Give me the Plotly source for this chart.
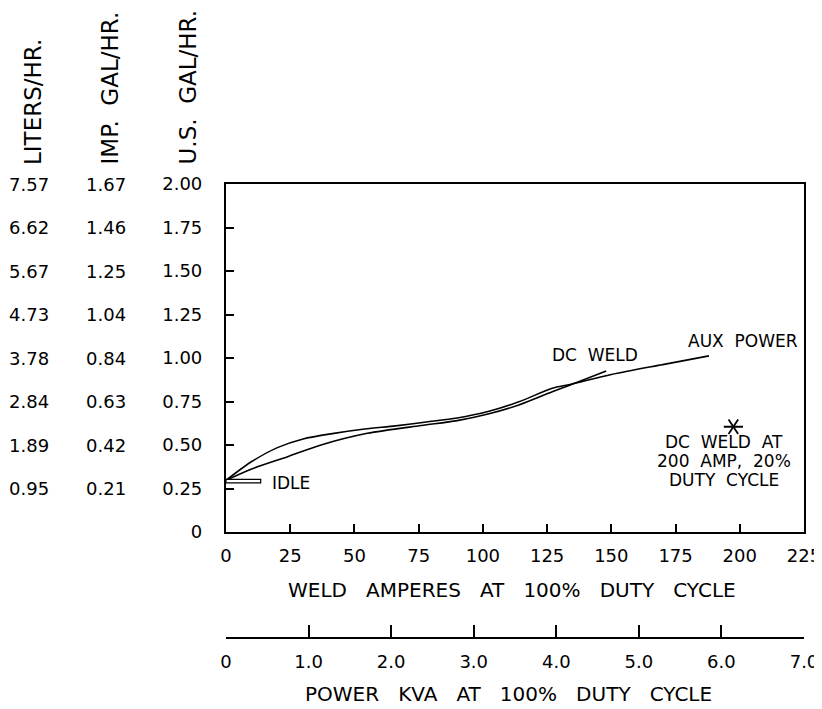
import plotly.graph_objects as go

# fuel consumption curves (x = weld amperes, y = U.S. gal/hr)
aux_x = [0, 10, 20, 30, 42, 54, 66, 78, 90, 102, 114, 127, 134, 150, 170, 188]
aux_y = [0.297, 0.405, 0.485, 0.535, 0.567, 0.592, 0.61, 0.632, 0.655, 0.692, 0.748, 0.826, 0.848, 0.905, 0.962, 1.012]
dc_x = [0, 10, 24, 37, 55, 76, 90, 102, 114, 127, 134, 148]
dc_y = [0.297, 0.362, 0.433, 0.50, 0.567, 0.612, 0.64, 0.678, 0.73, 0.806, 0.845, 0.925]

# idle bar and the 20% duty cycle point
idle_x = [0, 13.5]
idle_y = [0.282, 0.302]
star_x = [197.5]
star_y = [0.605]

# scales
amp_ticks = [0, 25, 50, 75, 100, 125, 150, 175, 200, 225]
kva_ticks = [0, 1, 2, 3, 4, 5, 6, 7]
kva_labels = ["0", "1.0", "2.0", "3.0", "4.0", "5.0", "6.0", "7.0"]
us_gal = [0, 0.25, 0.5, 0.75, 1.0, 1.25, 1.5, 1.75, 2.0]
us_labels = ["0", "0.25", "0.50", "0.75", "1.00", "1.25", "1.50", "1.75", "2.00"]
liters = ["0.95", "1.89", "2.84", "3.78", "4.73", "5.67", "6.62", "7.57"]
imp_gal = ["0.21", "0.42", "0.63", "0.84", "1.04", "1.25", "1.46", "1.67"]

# the page body has an 8px margin, so the figure sits 8px in from the corner
OFF = 8
W, H = 822 - OFF, 709 - OFF
ML, MT = 226 - OFF, 184 - OFF
PW = 578
MR = W - ML - PW
MB = H - (638 - OFF)
PH = H - MT - MB
Y_BOTTOM_PX = 532  # pixel row of the amperes axis (screen coords)

FONT = "DejaVu Sans"
NB = "\u00a0"


def px_x(px):
    return (px - OFF - ML) / PW


def px_y(py):
    return (H - MB - (py - OFF)) / PH


fig = go.Figure()

line_style = dict(color="black", width=1.6, shape="spline", smoothing=0.8)
fig.add_trace(go.Scatter(x=aux_x, y=aux_y, mode="lines", line=line_style, name="AUX POWER"))
fig.add_trace(go.Scatter(x=dc_x, y=dc_y, mode="lines", line=line_style, name="DC WELD"))

# six-armed asterisk from two Y markers
for sym in ["y-up-open", "y-down-open"]:
    fig.add_trace(go.Scatter(
        x=star_x, y=star_y, mode="markers",
        marker=dict(symbol=sym, size=12, angle=90, color="black", line=dict(color="black", width=1.8)),
    ))

# empty trace so the KVA axis gets drawn
fig.add_trace(go.Scatter(x=[], y=[], xaxis="x2", mode="lines"))

fig.add_shape(type="rect", xref="x", yref="y",
              x0=idle_x[0], x1=idle_x[1], y0=idle_y[0], y1=idle_y[1],
              line=dict(color="black", width=1.2), fillcolor="white")

tick_font = dict(family=FONT, size=18, color="black")
lbl_font = dict(family=FONT, size=17, color="black")
head_font = dict(family=FONT, size=23, color="black")
title_font = dict(family=FONT, size=20, color="black")

fig.update_layout(
    width=W, height=H,
    margin=dict(l=ML, r=MR, t=MT, b=MB, autoexpand=False),
    paper_bgcolor="white", plot_bgcolor="white",
    showlegend=False,
    xaxis=dict(
        range=[0, 225], tickvals=amp_ticks, ticktext=[str(t) for t in amp_ticks],
        ticks="inside", ticklen=8, tickwidth=2, tickcolor="black",
        showline=True, linewidth=2.2, linecolor="black", mirror=True,
        showgrid=False, zeroline=False, tickfont=tick_font,
        ticklabelstandoff=6, anchor="y", automargin=False, ticklabeloverflow="allow",
    ),
    yaxis=dict(
        range=[0, 2], tickvals=us_gal, ticktext=us_labels,
        domain=[px_y(Y_BOTTOM_PX), 1],
        ticks="inside", ticklen=8, tickwidth=2, tickcolor="black",
        showline=True, linewidth=2.2, linecolor="black", mirror=True,
        showgrid=False, zeroline=False, tickfont=tick_font,
        ticklabelstandoff=18, automargin=False,
    ),
    xaxis2=dict(
        range=[0, 7], tickvals=kva_ticks, ticktext=kva_labels,
        overlaying="x", anchor="free", position=0, side="bottom",
        ticks="inside", ticklen=12, tickwidth=2, tickcolor="black",
        showline=True, linewidth=2.2, linecolor="black",
        showgrid=False, zeroline=False, tickfont=tick_font,
        ticklabelstandoff=7, automargin=False, ticklabeloverflow="allow",
    ),
)

# extra fuel-rate columns beside the U.S. gallon scale
for val, lit, imp in zip(us_gal[1:], liters, imp_gal):
    fig.add_annotation(x=px_x(51), y=val, xref="paper", yref="y", text=lit,
                       showarrow=False, xanchor="right", yanchor="middle", font=tick_font)
    fig.add_annotation(x=px_x(128), y=val, xref="paper", yref="y", text=imp,
                       showarrow=False, xanchor="right", yanchor="middle", font=tick_font)

# column headings
for cx, txt in [(33, "LITERS/HR."), (109, "IMP." + NB * 2 + "GAL/HR."), (187, "U.S." + NB * 2 + "GAL/HR.")]:
    fig.add_annotation(x=px_x(cx), y=px_y(167), xref="paper", yref="paper", text=txt,
                       textangle=-90, showarrow=False, xanchor="center", yanchor="bottom",
                       font=head_font)

# axis titles
fig.add_annotation(x=px_x(512), y=px_y(590), xref="paper", yref="paper",
                   text=(NB * 3).join(["WELD", "AMPERES", "AT", "100%", "DUTY", "CYCLE"]),
                   showarrow=False, xanchor="center", yanchor="middle", font=title_font)
fig.add_annotation(x=px_x(508), y=px_y(694), xref="paper", yref="paper",
                   text=(NB * 3).join(["POWER", "KVA", "AT", "100%", "DUTY", "CYCLE"]),
                   showarrow=False, xanchor="center", yanchor="middle", font=title_font)

# curve labels
fig.add_annotation(x=143.6, y=1.017, text="DC" + NB * 2 + "WELD", showarrow=False,
                   xanchor="center", yanchor="middle", font=lbl_font)
fig.add_annotation(x=201.3, y=1.095, text="AUX" + NB * 2 + "POWER", showarrow=False,
                   xanchor="center", yanchor="middle", font=lbl_font)
fig.add_annotation(x=17.1, y=0.282, text="IDLE", showarrow=False, xanchor="left",
                   yanchor="middle", font=lbl_font)

note = ["DC" + NB * 2 + "WELD" + NB * 2 + "AT", "200" + NB * 2 + "AMP," + NB * 2 + "20%",
        "DUTY" + NB * 2 + "CYCLE"]
for i, line in enumerate(note):
    fig.add_annotation(x=194, y=star_y[0] - 0.09 - i * 0.109, text=line, showarrow=False,
                       xanchor="center", yanchor="middle", font=lbl_font)

fig.write_html("out.html")
